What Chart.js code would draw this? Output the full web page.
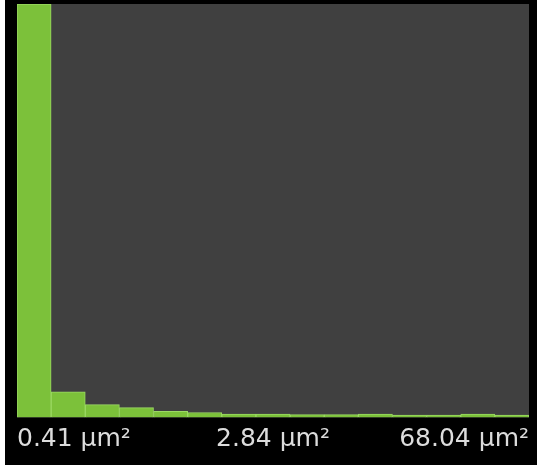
<!DOCTYPE html>
<html>
<head>
<meta charset="utf-8">
<script src="https://cdn.jsdelivr.net/npm/chart.js@4"></script>
<style>
  html, body { margin: 0; padding: 0; background: #fff; }
  #wrap { position: absolute; left: 5px; top: 0; width: 532px; height: 465px; background: #000; }
</style>
</head>
<body>
<div id="wrap"><canvas id="histChart"></canvas></div>
<script>
// histogram bins (share of particles, %)
const bins = ['b1', 'b2', 'b3', 'b4', 'b5', 'b6', 'b7', 'b8', 'b9', 'b10', 'b11', 'b12', 'b13', 'b14', 'b15'];
const counts = [100, 6.2, 3.1, 2.4, 1.5, 1.2, 0.8, 0.8, 0.7, 0.7, 0.8, 0.6, 0.6, 0.8, 0.6];
const tickLabels = ['0.41 µm²', '2.84 µm²', '68.04 µm²'];

// dark grey plot background
const plotBg = {
  id: 'plotBg',
  beforeDraw(chart) {
    const { ctx, chartArea } = chart;
    ctx.save();
    ctx.fillStyle = '#404040';
    ctx.fillRect(chartArea.left, chartArea.top, chartArea.right - chartArea.left, chartArea.bottom - chartArea.top);
    ctx.restore();
  }
};

const ctx = document.getElementById('histChart').getContext('2d');
new Chart(ctx, {
  type: 'bar',
  data: {
    labels: bins,
    datasets: [{
      data: counts,
      backgroundColor: '#7cc13a',
      borderColor: '#9bd963',
      borderWidth: 1,
      barPercentage: 1,
      categoryPercentage: 1
    }]
  },
  options: {
    responsive: true,
    maintainAspectRatio: false,
    animation: false,
    layout: {
      padding: { left: 12, right: 7, top: 4, bottom: 4 }
    },
    plugins: {
      legend: { display: false },
      tooltip: { enabled: false }
    },
    scales: {
      x: {
        display: false
      },
      x2: {
        type: 'linear',
        position: 'bottom',
        min: 0,
        max: 2,
        offset: false,
        grid: { display: false, drawTicks: false },
        border: { display: false },
        ticks: {
          stepSize: 1,
          align: 'inner',
          padding: 8,
          maxRotation: 0,
          autoSkip: false,
          color: '#dcdcdc',
          font: { family: 'DejaVu Sans', size: 25, lineHeight: 1.1 },
          callback: (v) => tickLabels[v]
        }
      },
      y: {
        display: false,
        min: 0,
        max: 100
      }
    }
  },
  plugins: [plotBg]
});
</script>
</body>
</html>
